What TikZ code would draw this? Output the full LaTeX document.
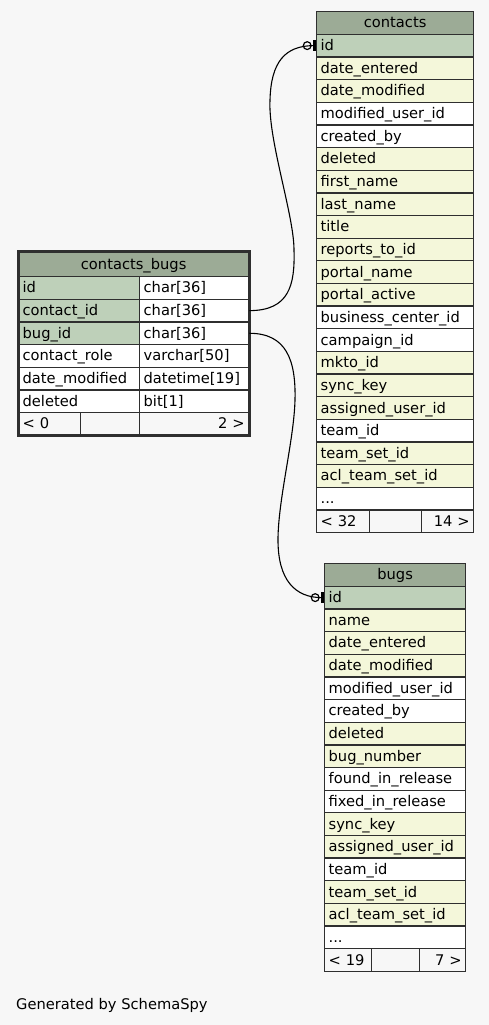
\documentclass[tikz,border=0pt]{standalone}
\usepackage{fontspec}
\setmainfont{DejaVu Sans}
\usepackage{xcolor}
\usepackage{tikz}
\usetikzlibrary{arrows.meta,positioning}

\definecolor{bgcol}{HTML}{F7F7F7}
\definecolor{headcol}{HTML}{9CAB96}
\definecolor{keycol}{HTML}{BED0B9}
\definecolor{colcol}{HTML}{F4F7DA}
\definecolor{linecol}{HTML}{2F2F2F}
\newcommand{\tabfont}{\fontsize{14.67}{17}\selectfont}
\newcommand{\morecols}{...}

\begin{document}
\begin{tikzpicture}[x=1pt, y=-1pt,
    cell/.style={draw=linecol, line width=1.3pt, rectangle, anchor=north west,
      minimum height=22.65pt, inner xsep=4pt, inner ysep=0pt,
      text height=12pt, text depth=2pt, font=\tabfont, align=left},
    hdr/.style={cell, fill=headcol, align=center},
    rel/.style={line width=1.1pt,
      -{Circle[open, length=9pt, line width=1.2pt, sep=1.5pt] Bar[width=11pt, line width=2.8pt]}}]
  \fill[bgcol] (0,0) rectangle (489,1025);

  % contacts
  \node[hdr, text width=149pt] (ct-head) at (316,11) {contacts};
  \foreach \txt/\fc [count=\i] in {id/keycol, date\_entered/colcol,
      date\_modified/colcol, modified\_user\_id/white, created\_by/white,
      deleted/colcol, first\_name/colcol, last\_name/colcol, title/colcol,
      reports\_to\_id/colcol, portal\_name/colcol, portal\_active/colcol,
      business\_center\_id/white, campaign\_id/white, mkto\_id/colcol,
      sync\_key/colcol, assigned\_user\_id/colcol, team\_id/white,
      team\_set\_id/colcol, acl\_team\_set\_id/colcol, \morecols/white}
    \node[cell, fill=\fc, text width=149pt] (ct-\i) at (316,{11+22.65*\i}) {\txt};
  \node[cell, text width=45pt] (ct-f1) at (316,509.3) {< 32};
  \node[cell, text width=44pt] (ct-f2) at (369,509.3) {};
  \node[cell, text width=44pt, align=right] (ct-f3) at (421,509.3) {14 >};

  % contacts_bugs
  \node[hdr, text width=222pt, minimum height=25pt] (cb-head) at (18,251) {contacts\_bugs};
  \foreach \txt/\typ/\fc [count=\i] in {id/char[36]/keycol,
      contact\_id/char[36]/keycol, bug\_id/char[36]/keycol,
      contact\_role/varchar[50]/white, date\_modified/datetime[19]/white,
      deleted/bit[1]/white} {
    \node[cell, fill=\fc, text width=113pt] (cb-n\i) at (18,{276+22.65*(\i-1)}) {\txt};
    \node[cell, fill=white, text width=101pt] (cb-t\i) at (139,{276+22.65*(\i-1)}) {\typ};
  }
  \node[cell, text width=54pt] (cb-f1) at (18,411.9) {< 0};
  \node[cell, text width=51pt] (cb-f2) at (80,411.9) {};
  \node[cell, text width=101pt, align=right] (cb-f3) at (139,411.9) {2 >};
  \draw[linecol, line width=3pt] (cb-head.north west) rectangle (cb-f3.south east);

  % bugs
  \node[hdr, text width=133pt] (bg-head) at (324,563) {bugs};
  \foreach \txt/\fc [count=\i] in {id/keycol, name/colcol, date\_entered/colcol,
      date\_modified/colcol, modified\_user\_id/white, created\_by/white,
      deleted/colcol, bug\_number/colcol, found\_in\_release/white,
      fixed\_in\_release/white, sync\_key/colcol, assigned\_user\_id/colcol,
      team\_id/white, team\_set\_id/colcol, acl\_team\_set\_id/colcol, \morecols/white}
    \node[cell, fill=\fc, text width=133pt] (bg-\i) at (324,{563+22.65*\i}) {\txt};
  \node[cell, text width=39pt] (bg-f1) at (324,948.05) {< 19};
  \node[cell, text width=40pt] (bg-f2) at (371,948.05) {};
  \node[cell, text width=38pt, align=right] (bg-f3) at (419,948.05) {7 >};

  % relationships
  \coordinate (k1) at (294,250);
  \coordinate (k2) at (270,100);
  \draw[rel] (cb-t2.east) .. controls +(40,0) and +(1,35) .. (k1)
    .. controls +(0,-35) and +(-2,40) .. (k2)
    .. controls +(1,-38) and +(-31,0) .. (ct-1.west);
  \coordinate (k3) at (295,400);
  \coordinate (k4) at (278,540);
  \draw[rel] (cb-t3.east) .. controls +(37,0) and +(1,-40) .. (k3)
    .. controls +(-1,40) and +(0,-40) .. (k4)
    .. controls +(0,40) and +(-29,0) .. (bg-1.west);

  \node[anchor=base west, font=\tabfont, inner sep=0pt] (gen) at (16,1009) {Generated by SchemaSpy};
\end{tikzpicture}
\end{document}
